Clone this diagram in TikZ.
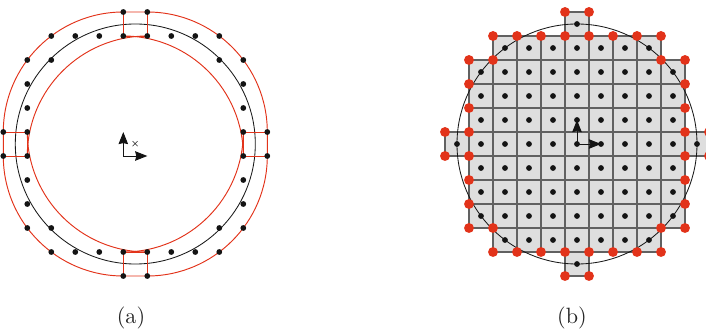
\documentclass[tikz,border=0pt]{standalone}
\usepackage{xcolor}
\usetikzlibrary{arrows.meta}
\definecolor{ringred}{HTML}{E2331A}
\newcommand{\zonepts}{-0.5/5.5,0.5/5.5,
  -3.5/4.5,-2.5/4.5,-1.5/4.5,-0.5/4.5,0.5/4.5,1.5/4.5,2.5/4.5,3.5/4.5,
  -4.5/3.5,-3.5/3.5,3.5/3.5,4.5/3.5,-4.5/2.5,4.5/2.5,-4.5/1.5,4.5/1.5,
  -5.5/0.5,-4.5/0.5,4.5/0.5,5.5/0.5,-5.5/-0.5,-4.5/-0.5,4.5/-0.5,5.5/-0.5,
  -4.5/-1.5,4.5/-1.5,-4.5/-2.5,4.5/-2.5,-4.5/-3.5,-3.5/-3.5,3.5/-3.5,4.5/-3.5,
  -3.5/-4.5,-2.5/-4.5,-1.5/-4.5,-0.5/-4.5,0.5/-4.5,1.5/-4.5,2.5/-4.5,3.5/-4.5,
  -0.5/-5.5,0.5/-5.5}

\begin{document}
\begin{tikzpicture}[
  x=.8cm,y=.8cm,
  every node/.style={inner sep=0pt},
  ring/.style={draw=black!90,line width=.8pt},
  redline/.style={draw=ringred,line width=.9pt},
  cellbox/.style={draw=black!62,fill=black!13,line width=1pt,minimum size=.8cm},
  blackdot/.style={circle,fill=black!92,minimum size=5.5pt},
  reddot/.style={circle,fill=ringred,minimum size=9.4pt},
  arrow/.style={-{Stealth[length=11.5pt,width=9pt,inset=1pt]},line width=.85pt,black!92},
  caption/.style={scale=2.1,text=black!85}
]
  \useasboundingbox (-5.6375,6) rectangle (23.779,-7.9167);

  % panel a
  \draw[ring] (0,0) circle[radius=5];
  \draw[redline] (5.5,.5) arc[start angle=0,end angle=90,radius=5] -- (-.5,5.5)
    arc[start angle=90,end angle=180,radius=5] -- (-5.5,-.5)
    arc[start angle=180,end angle=270,radius=5] -- (.5,-5.5)
    arc[start angle=270,end angle=360,radius=5] -- cycle;
  \draw[redline] (4.5,-.5) arc[start angle=0,end angle=90,radius=5];
  \draw[redline] (.5,4.5) arc[start angle=90,end angle=180,radius=5];
  \draw[redline] (-4.5,.5) arc[start angle=180,end angle=270,radius=5];
  \draw[redline] (-.5,-4.5) arc[start angle=270,end angle=360,radius=5];
  \draw[redline] (-.5,5.5) -- (-.5,4.5) -- (.5,4.5) -- (.5,5.5);
  \draw[redline] (-.5,-5.5) -- (-.5,-4.5) -- (.5,-4.5) -- (.5,-5.5);
  \draw[redline] (-5.5,.5) -- (-4.5,.5) -- (-4.5,-.5) -- (-5.5,-.5);
  \draw[redline] (5.5,.5) -- (4.5,.5) -- (4.5,-.5) -- (5.5,-.5);
  \foreach \x/\y [count=\n] in \zonepts
    \node[blackdot] (a\n) at (\x,\y) {};
  \coordinate (ao) at (-.5,-.5);
  \coordinate (ax) at (.5,-.5);
  \coordinate (ay) at (-.5,.5);
  \draw[arrow] (ao) -- (ax);
  \draw[arrow] (ao) -- (ay);
  \node[font=\small\boldmath] (acenter) at (0,0) {$\times$};
  \node[caption] (acap) at (-.18,-7.25) {(a)};

  % panel b
  \begin{scope}[shift={(18.404,0)}]
    \foreach \j in {-5,...,5}
      \foreach \i in {-5,...,5}{
        \ifnum\numexpr\i*\i+\j*\j\relax<26
          \node[cellbox] (c\i\j) at (\i,\j) {};
        \fi
      }
    \draw[ring] (0,0) circle[radius=5];
    \foreach \j in {-5,...,5}
      \foreach \i in {-5,...,5}{
        \ifnum\numexpr\i*\i+\j*\j\relax<26
          \node[blackdot] (d\i\j) at (\i,\j) {};
        \fi
      }
    \foreach \x/\y [count=\n] in \zonepts
      \node[reddot] (b\n) at (\x,\y) {};
    \draw[arrow] (d00.center) -- (d10.center);
    \draw[arrow] (d00.center) -- (d01.center);
    \node[caption] (bcap) at (-.21,-7.25) {(b)};
  \end{scope}
\end{tikzpicture}
\end{document}
